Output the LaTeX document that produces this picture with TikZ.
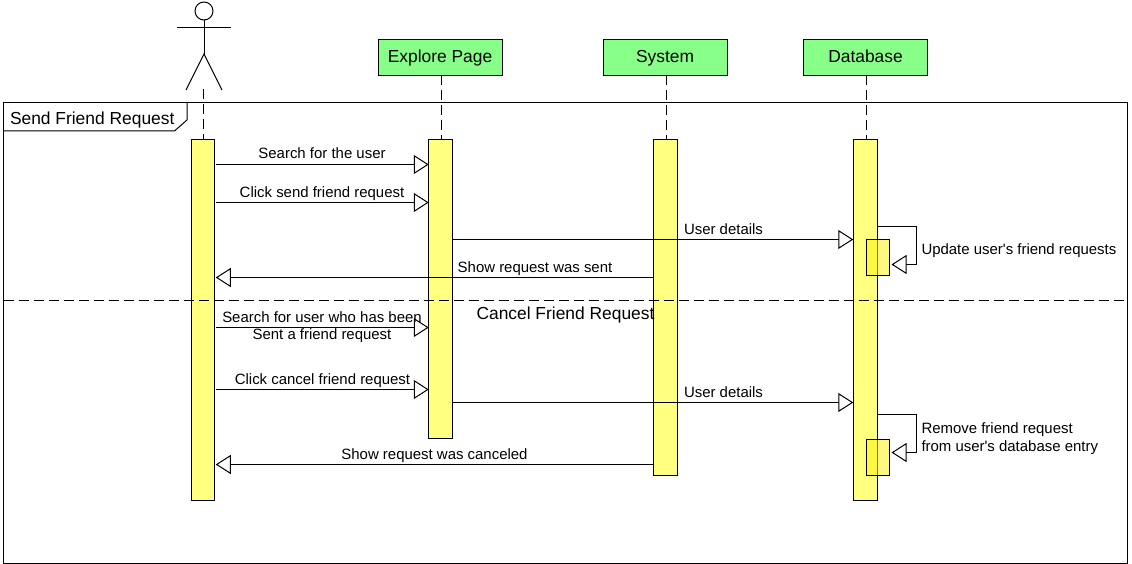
\documentclass[tikz,border=0pt]{standalone}
\usepackage{fontspec}
\setmainfont{Liberation Sans}[Ligatures=TeXOff]
\usetikzlibrary{arrows.meta}
\definecolor{baryellow}{HTML}{FFFF80}
\definecolor{boxgreen}{HTML}{88FF88}
\tikzset{
  x=1pt,y=-1pt,
  every node/.style={inner sep=0pt,outer sep=0pt},
  lbl/.style={font=\fontsize{14.95}{18}\selectfont,text=black,align=left},
  big/.style={font=\fontsize{17.4}{20}\selectfont,text=black},
  head/.style={draw,line width=1pt,fill=boxgreen,minimum width=124pt,minimum height=36pt},
  bar/.style={draw,line width=1pt,fill=baryellow,minimum width=23.5pt},
  nested/.style={draw=black,line width=1pt,fill=yellow,fill opacity=.5,minimum width=23pt,minimum height=36pt},
  life/.style={line width=1pt,dash pattern=on 10pt off 5pt},
  msg/.style={line width=1pt,-{Triangle[open,fill=white,length=15pt,width=19pt,line width=1pt]}},
  stick/.style={line width=1pt}
}
\begin{document}
\begin{tikzpicture}
\useasboundingbox (0,0) rectangle (1132,564);
% frame
\node[draw,line width=1pt,minimum width=1124pt,minimum height=461pt,anchor=north west] (frame) at (3.5,102.5) {};
\coordinate (tabtop) at (187,102.5);
\coordinate (tableft) at (3.5,131);
\draw[line width=1pt] (tabtop) -- (187,120) -- (174.5,131) -- (tableft);
\node[big,anchor=base west] (title) at (10,125) {Send Friend Request};
% actor
\node[draw,circle,line width=1pt,minimum size=18pt] (headc) at (204,11) {};
\coordinate (neck) at (204,54);
\coordinate (armL) at (177,28);
\coordinate (armR) at (231,28);
\coordinate (legL) at (186,90);
\coordinate (legR) at (222,90);
\draw[stick] (headc) -- (neck);
\draw[stick] (armL) -- (armR);
\draw[stick] (legL) -- (neck) -- (legR);
% heads
\node[head] (explore) at (440.5,57.5) {};
\node[head] (system) at (665.5,57.5) {};
\node[head] (database) at (865.5,57.5) {};
\node[big,anchor=base] (t1) at ([xshift=-.5pt]explore |- 0,63) {Explore Page};
\node[big,anchor=base] (t2) at ([xshift=-.5pt]system |- 0,63) {System};
\node[big,anchor=base] (t3) at (database |- 0,63) {Database};
% bars
\node[bar,anchor=north,minimum height=361pt] (ua) at (203,139.5) {};
\node[bar,anchor=north,minimum height=299pt] (ea) at (440.5,139.5) {};
\node[bar,anchor=north,minimum height=336pt] (sa) at (665.5,139.5) {};
\node[bar,anchor=north,minimum height=361pt] (da) at (865.5,139.5) {};
% lifelines
\coordinate (actorfoot) at (203.5,89);
\draw[life] (actorfoot) -- ([xshift=.5pt]ua.north);
\draw[life] ([xshift=.5pt]explore.south) -- ([xshift=.5pt]ea.north);
\draw[life] ([xshift=.5pt]system.south) -- ([xshift=.5pt]sa.north);
\draw[life] ([xshift=.5pt]database.south) -- ([xshift=.5pt]da.north);
% nested
\node[nested,anchor=north west] (n1) at (866.5,239.5) {};
\node[nested,anchor=north west] (n2) at (866.5,439.5) {};
% separator
\coordinate (sepL) at (3.5,300);
\coordinate (sepR) at (1127.5,300);
\draw[life] (sepL) -- (sepR);
% messages
\draw[msg] ([xshift=1pt]ua.east |- 0,164.5) -- (ea.west |- 0,164.5);
\node[lbl,anchor=base] (m1) at (322,159) {Search for the user};
\draw[msg] ([xshift=1pt]ua.east |- 0,202.5) -- (ea.west |- 0,202.5);
\node[lbl,anchor=base] (m2) at (322,197) {Click send friend request};
\draw[msg] (ea.east |- 0,239.5) -- ([xshift=-.5pt]da.west |- 0,239.5);
\node[lbl,anchor=base] (m3) at (723.5,234) {User details};
\draw[msg] (sa.west |- 0,277.5) -- ([xshift=1pt]ua.east |- 0,277.5);
\node[lbl,anchor=base] (m4) at (535,272) {Show request was sent};
\draw[msg] ([xshift=1pt]ua.east |- 0,327.5) -- (ea.west |- 0,327.5);
\node[lbl,anchor=base] (m5a) at (322,322) {Search for user who has been};
\node[lbl,anchor=base] (m5b) at (322,339) {Sent a friend request};
\draw[msg] ([xshift=1pt]ua.east |- 0,389.5) -- (ea.west |- 0,389.5);
\node[lbl,anchor=base] (m6) at (322.5,384) {Click cancel friend request};
\draw[msg] (ea.east |- 0,402.5) -- ([xshift=-.5pt]da.west |- 0,402.5);
\node[lbl,anchor=base] (m7) at (723.5,397) {User details};
\draw[msg] (sa.west |- 0,464.5) -- ([xshift=1pt]ua.east |- 0,464.5);
\node[lbl,anchor=base] (m8) at (434.5,459) {Show request was canceled};
% self messages
\draw[msg] (da.east |- 0,226.5) -- (916.5,226.5) -- (916.5,264.5) -- ([xshift=2pt]n1.east |- 0,264.5);
\node[lbl,anchor=base west] (m9) at (921.5,254) {Update user's friend requests};
\draw[msg] (da.east |- 0,414.5) -- (916.5,414.5) -- (916.5,452.5) -- ([xshift=2pt]n2.east |- 0,452.5);
\node[lbl,anchor=base west] (m10a) at (921.5,433) {Remove friend request};
\node[lbl,anchor=base west] (m10b) at (921.5,451) {from user's database entry};
% fragment label
\node[big,anchor=base] (cancel) at (565.5,319) {Cancel Friend Request};
\end{tikzpicture}
\end{document}
